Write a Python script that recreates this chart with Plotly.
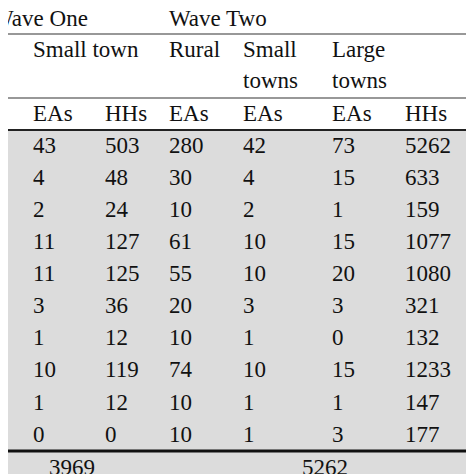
import plotly.graph_objects as go

# table values
ea_small_w1 = ["43", "4", "2", "11", "11", "3", "1", "10", "1", "0"]
hh_small_w1 = ["503", "48", "24", "127", "125", "36", "12", "119", "12", "0"]
ea_rural_w2 = ["280", "30", "10", "61", "55", "20", "10", "74", "10", "10"]
ea_small_w2 = ["42", "4", "2", "10", "10", "3", "1", "10", "1", "1"]
ea_large_w2 = ["73", "15", "1", "15", "20", "3", "0", "15", "1", "3"]
hh_w2 = ["5262", "633", "159", "1077", "1080", "321", "132", "1233", "147", "177"]
left_cut = ["5", "", "", "", "", "", "", "", "", ""]
right_cut = ["2", "", "", "", "", "", "", "", "1", "1"]
totals = ["3969", "5262"]

columns = [left_cut, ea_small_w1, hh_small_w1, ea_rural_w2, ea_small_w2, ea_large_w2, hh_w2, right_cut]
col_x = [-12, 25, 97, 161, 235, 324, 397, 462]
row_y = [139 + 32.1 * i for i in range(10)]

font = dict(family="Liberation Serif, Times New Roman, serif", size=23, color="#111")

fig = go.Figure()
for cx, vals in zip(col_x, columns):
    fig.add_trace(go.Scatter(x=[cx] * len(vals), y=row_y, text=vals, mode="text",
                             textposition="middle right", textfont=font, hoverinfo="skip"))

headers = [(-16, 12, "Wave One"), (161, 12, "Wave Two"), (460, 12, "W"),
           (25, 43, "Small town"), (161, 43, "Rural"), (235, 43, "Small"), (324, 43, "Large"),
           (460, 43, "R"), (235, 74, "towns"), (324, 74, "towns"),
           (-11, 107, ":"), (25, 107, "EAs"), (97, 107, "HHs"), (161, 107, "EAs"),
           (235, 107, "EAs"), (324, 107, "EAs"), (397, 107, "HHs"), (462, 107, "E"),
           (41, 461, totals[0]), (294, 461, totals[1])]
fig.add_trace(go.Scatter(x=[h[0] for h in headers], y=[h[1] for h in headers],
                         text=[h[2] for h in headers], mode="text",
                         textposition="middle right", textfont=font, hoverinfo="skip"))

shapes = [
    dict(type="rect", x0=0, x1=474, y0=123, y1=474, fillcolor="#dcdcdc", line_width=0, layer="below"),
    dict(type="line", x0=0, x1=474, y0=26, y1=26, line=dict(color="#333", width=1.2)),
    dict(type="line", x0=0, x1=474, y0=90, y1=90, line=dict(color="#333", width=1.2)),
    dict(type="line", x0=0, x1=474, y0=122, y1=122, line=dict(color="#222", width=2)),
    dict(type="line", x0=0, x1=474, y0=443, y1=443, line=dict(color="#111", width=3)),
]

fig.update_layout(
    width=474, height=474, margin=dict(l=0, r=0, t=0, b=0),
    paper_bgcolor="white", plot_bgcolor="white", showlegend=False, shapes=shapes,
    xaxis=dict(range=[0, 474], visible=False, fixedrange=True),
    yaxis=dict(range=[474, 0], visible=False, fixedrange=True),
)

fig.write_html("out.html")
